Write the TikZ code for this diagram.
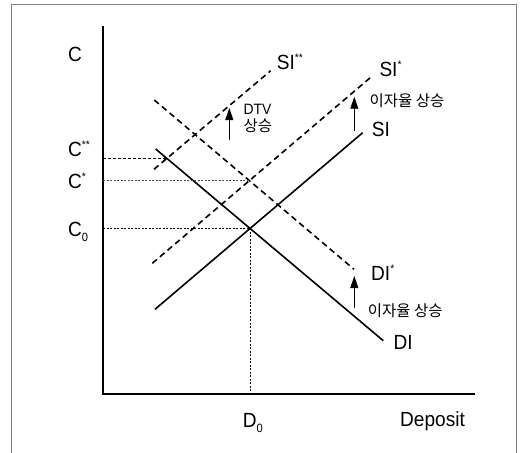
\documentclass[tikz,border=0pt]{standalone}
\usepackage{fontspec}
\setmainfont[FakeStretch=0.93]{Liberation Sans}
\newfontfamily\kr{Noto Sans CJK KR}
\usetikzlibrary{arrows.meta}
\newcommand{\lowsub}[1]{\raisebox{-5pt}{\fontsize{12}{12}\selectfont #1}}
\newcommand{\highsup}[1]{\raisebox{8pt}{\fontsize{11}{11}\selectfont #1}}
\begin{document}
\begin{tikzpicture}[x=1pt,y=-1pt,
  axis/.style={line width=2pt, line join=miter},
  curve/.style={line width=1.6pt},
  shifted/.style={line width=1.6pt, dash pattern=on 6pt off 4pt},
  guide/.style={line width=0.6pt, dash pattern=on 2pt off 1.5pt},
  lbl/.style={anchor=base west, inner sep=0pt, font=\fontsize{20.5}{24}\selectfont},
  small/.style={anchor=base west, inner sep=0pt, font=\fontsize{15}{18}\selectfont},
  krl/.style={anchor=base west, inner sep=0pt, font=\kr\fontsize{15.5}{18}\selectfont},
  shiftarrow/.style={line width=0.9pt, -{Triangle[length=12pt,width=8pt]}}]
\useasboundingbox (0,0) rectangle (526,452);
\fill[white] (0,0) rectangle (526,452);
\draw[gray, line width=1pt] (11,470) -- (11,5) -- (516,5) -- (516,470);
% axes
\coordinate (ytop) at (103.3,26);
\coordinate (O) at (103.3,394.3);
\coordinate (xend) at (475,394.3);
\draw[axis] (ytop) -- (O) -- (xend);
% curves
\coordinate (DIa) at (155.7,149);   \coordinate (DIb) at (383.3,340.7);
\coordinate (SIa) at (155,309.3);   \coordinate (SIb) at (362.7,132.7);
\coordinate (SIsa) at (152.3,263.3); \coordinate (SIsb) at (370.7,77.3);
\coordinate (DIsa) at (154.3,100);  \coordinate (DIsb) at (354,269.3);
\coordinate (SIssa) at (154,169.3); \coordinate (SIssb) at (270.7,70.7);
\draw[curve] (DIa) -- (DIb);
\draw[curve] (SIa) -- (SIb);
\draw[shifted] (SIsa) -- (SIsb);
\draw[shifted] (DIsa) -- (DIsb);
\draw[shifted] (SIssa) -- (SIssb);
% equilibria
\coordinate (E0) at (intersection of DIa--DIb and SIa--SIb);
\coordinate (E1) at (intersection of DIsa--DIsb and SIsa--SIsb);
\coordinate (E2) at (intersection of DIa--DIb and SIssa--SIssb);
\draw[guide] (O |- E0) -- (E0);
\draw[guide] (E0) -- (E0 |- O);
\draw[guide, black!70] (O |- E1) -- (E1);
\draw[guide, dash pattern=on 3pt off 2pt, -{To[length=4pt,width=6pt]}] (O |- E2) -- (E2);
% shift arrows
\coordinate (a1s) at (229.3,140); \coordinate (a1e) at (229.3,108);
\coordinate (a2s) at (354.3,131); \coordinate (a2e) at (354.3,96.7);
\coordinate (a3s) at (354.3,308); \coordinate (a3e) at (354.3,276);
\draw[shiftarrow] (a1s) -- (a1e);
\draw[shiftarrow] (a2s) -- (a2e);
\draw[shiftarrow] (a3s) -- (a3e);
% labels
\node[lbl] (lC) at (68,61.7) {C};
\node[lbl] (lCss) at (68,156.7) {C\highsup{**}};
\node[lbl] (lCs) at (68,188) {C\highsup{*}};
\node[lbl] (lC0) at (68,236) {C\lowsub{0}};
\node[lbl] (lD0) at (242.7,427.7) {D\lowsub{0}};
\node[lbl] (lDep) at (400,426.7) {Deposit};
\node[lbl] (lSIss) at (276.7,69) {SI\highsup{**}};
\node[lbl] (lSIs) at (379.3,76) {SI\highsup{*}};
\node[lbl] (lSI) at (371.7,136.7) {SI};
\node[lbl] (lDIs) at (371,280) {DI\highsup{*}};
\node[lbl] (lDI) at (393.3,349.3) {DI};
\node[small] (lDTV) at (243.3,114.3) {DTV};
\node[krl] (lDTVup) at (243.3,131.7) {상승};
\node[krl] (lr1) at (369.3,106) {이자율 상승};
\node[krl] (lr2) at (367.7,316) {이자율 상승};
\end{tikzpicture}
\end{document}
